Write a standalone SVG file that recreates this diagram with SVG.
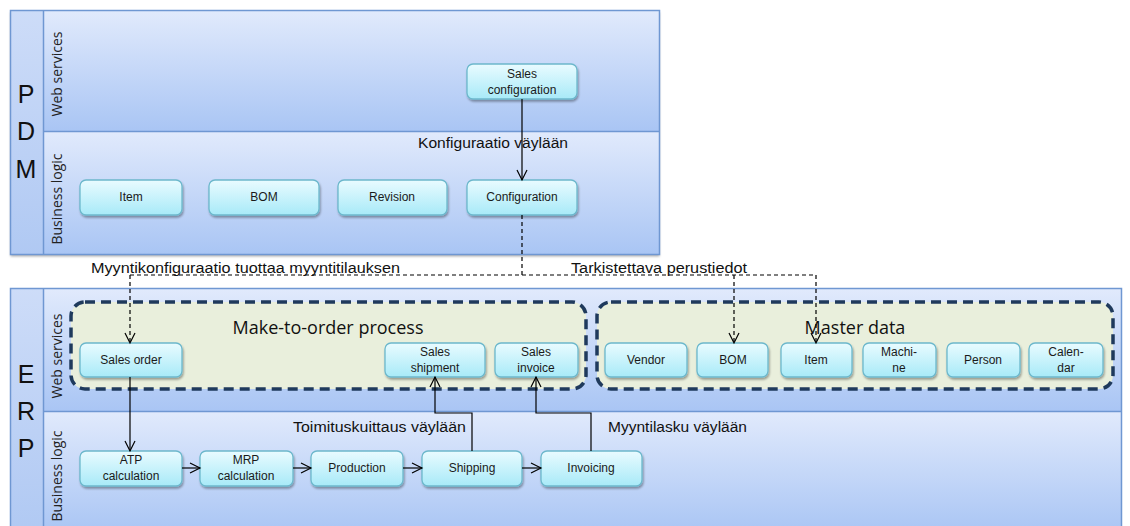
<svg xmlns="http://www.w3.org/2000/svg" width="1130" height="526" viewBox="0 0 1130 526">
  <defs>
    <linearGradient id="laneGrad" x1="0" y1="0" x2="0" y2="1">
      <stop offset="0" stop-color="#e1eafc"/>
      <stop offset="1" stop-color="#a9c5f4"/>
    </linearGradient>
    <linearGradient id="colGrad" x1="0" y1="0" x2="0" y2="1">
      <stop offset="0" stop-color="#cddcf8"/>
      <stop offset="1" stop-color="#b0c9f3"/>
    </linearGradient>
    <linearGradient id="nodeGrad" x1="0" y1="0" x2="0" y2="1">
      <stop offset="0" stop-color="#e9fbff"/>
      <stop offset="1" stop-color="#a8eaf8"/>
    </linearGradient>
    <filter id="shadow" x="-10%" y="-20%" width="130%" height="160%">
      <feDropShadow dx="1" dy="2" stdDeviation="1" flood-color="#000" flood-opacity="0.35"/>
    </filter>
    <filter id="boxShadow" x="-5%" y="-5%" width="110%" height="110%">
      <feDropShadow dx="0" dy="2" stdDeviation="1" flood-color="#000" flood-opacity="0.3"/>
    </filter>
    <marker id="arrow" markerUnits="userSpaceOnUse" markerWidth="14" markerHeight="14" viewBox="-11 -7 14 14" refX="0" refY="0" orient="auto">
      <path d="M-10,-5 L0,0 L-10,5" fill="none" stroke="#000" stroke-width="1.2"/>
    </marker>
  </defs>
  <style>
    .frame { stroke: #6f97d2; stroke-width: 1.5; }
    .lane { fill: url(#laneGrad); }
    .col { fill: url(#colGrad); }
    .div { stroke: #6f97d2; stroke-width: 1.5; fill: none; }
    .sys { font-family: "Liberation Sans", Arial, sans-serif; font-size: 25px; fill: #111; text-anchor: middle; }
    .laneLabel { font-family: "Open Sans", "Liberation Sans", sans-serif; font-size: 14px; fill: #222; text-anchor: middle; }
    .node rect { fill: url(#nodeGrad); stroke: #6cb8cc; stroke-width: 1.3; filter: url(#shadow); }
    .node text { font-family: "Liberation Sans", Arial, sans-serif; font-size: 12px; fill: #1a1a1a; text-anchor: middle; }
    .group { fill: #e9efdc; stroke: #1f3a5c; stroke-width: 3.5; stroke-dasharray: 10 6; }
    .groupTitle { font-family: "Open Sans", "Liberation Sans", sans-serif; font-size: 18px; fill: #111; text-anchor: middle; }
    .label { font-family: "Liberation Sans", Arial, sans-serif; font-size: 14px; fill: #111; }
    .conn { stroke: #000; stroke-width: 1.2; fill: none; }
    .dash { stroke: #000; stroke-width: 1.2; fill: none; stroke-dasharray: 4 3; }
  </style>

  <!-- PDM system -->
  <g id="pdm">
    <rect x="10.5" y="10.5" width="649" height="244" fill="#fff" filter="url(#boxShadow)"/>
    <rect class="col" x="10.5" y="10.5" width="33" height="244"/>
    <rect class="lane" x="43.5" y="10.5" width="616" height="121"/>
    <rect class="lane" x="43.5" y="131.5" width="616" height="123"/>
    <rect class="frame" x="10.5" y="10.5" width="649" height="244" fill="none"/>
    <path class="div" d="M43.5,10.5 V254.5 M43.5,131.5 H659.5"/>
    <text class="sys" x="26" y="103">P</text>
    <text class="sys" x="26" y="140">D</text>
    <text class="sys" x="26" y="178">M</text>
    <text class="laneLabel" transform="translate(62,74) rotate(-90)">Web services</text>
    <text class="laneLabel" transform="translate(62,199) rotate(-90)">Business logic</text>
  </g>

  <!-- ERP system -->
  <g id="erp">
    <rect class="col" x="10.5" y="288.5" width="33" height="245"/>
    <rect class="lane" x="43.5" y="288.5" width="1078" height="123"/>
    <rect class="lane" x="43.5" y="411.5" width="1078" height="122"/>
    <rect class="frame" x="10.5" y="288.5" width="1111" height="245" fill="none"/>
    <path class="div" d="M43.5,288.5 V526 M43.5,411.5 H1121.5"/>
    <text class="sys" x="26" y="383">E</text>
    <text class="sys" x="26" y="420">R</text>
    <text class="sys" x="26" y="457">P</text>
    <text class="laneLabel" transform="translate(62,356) rotate(-90)">Web services</text>
    <text class="laneLabel" transform="translate(62,476) rotate(-90)">Business logic</text>
  </g>

  <!-- Process groups -->
  <g id="make-to-order">
    <rect class="group" x="71" y="302" width="515" height="87" rx="14"/>
    <text class="groupTitle" x="328" y="334">Make-to-order process</text>
  </g>
  <g id="master-data">
    <rect class="group" x="597" y="302" width="516" height="87" rx="14"/>
    <text class="groupTitle" x="855" y="334">Master data</text>
  </g>

  <!-- PDM nodes -->
  <g id="pdm-sales-configuration" class="node">
    <rect x="467" y="64" width="110" height="35" rx="6"/>
    <text x="522" y="78">Sales</text>
    <text x="522" y="94">configuration</text>
  </g>
  <g id="pdm-item" class="node">
    <rect x="80" y="180" width="102" height="35" rx="6"/>
    <text x="131" y="201">Item</text>
  </g>
  <g id="pdm-bom" class="node">
    <rect x="209" y="180" width="110" height="35" rx="6"/>
    <text x="264" y="201">BOM</text>
  </g>
  <g id="pdm-revision" class="node">
    <rect x="338" y="180" width="109" height="35" rx="6"/>
    <text x="392" y="201">Revision</text>
  </g>
  <g id="pdm-configuration" class="node">
    <rect x="467" y="180" width="110" height="35" rx="6"/>
    <text x="522" y="201">Configuration</text>
  </g>

  <!-- ERP web service nodes -->
  <g id="erp-sales-order" class="node">
    <rect x="80" y="343" width="102" height="34" rx="6"/>
    <text x="131" y="364">Sales order</text>
  </g>
  <g id="erp-sales-shipment" class="node">
    <rect x="385" y="343" width="100" height="34" rx="6"/>
    <text x="435" y="356">Sales</text>
    <text x="435" y="372">shipment</text>
  </g>
  <g id="erp-sales-invoice" class="node">
    <rect x="495" y="343" width="83" height="34" rx="6"/>
    <text x="536" y="356">Sales</text>
    <text x="536" y="372">invoice</text>
  </g>
  <g id="erp-vendor" class="node">
    <rect x="605" y="343" width="82" height="34" rx="6"/>
    <text x="646" y="364">Vendor</text>
  </g>
  <g id="erp-bom" class="node">
    <rect x="697" y="343" width="71" height="34" rx="6"/>
    <text x="733" y="364">BOM</text>
  </g>
  <g id="erp-item" class="node">
    <rect x="781" y="343" width="71" height="34" rx="6"/>
    <text x="816" y="364">Item</text>
  </g>
  <g id="erp-machine" class="node">
    <rect x="863" y="343" width="73" height="34" rx="6"/>
    <text x="899" y="356">Machi-</text>
    <text x="899" y="372">ne</text>
  </g>
  <g id="erp-person" class="node">
    <rect x="947" y="343" width="73" height="34" rx="6"/>
    <text x="983" y="364">Person</text>
  </g>
  <g id="erp-calendar" class="node">
    <rect x="1029" y="343" width="74" height="34" rx="6"/>
    <text x="1066" y="356">Calen-</text>
    <text x="1066" y="372">dar</text>
  </g>

  <!-- ERP business logic nodes -->
  <g id="erp-atp" class="node">
    <rect x="80" y="451" width="102" height="35" rx="6"/>
    <text x="131" y="464">ATP</text>
    <text x="131" y="480">calculation</text>
  </g>
  <g id="erp-mrp" class="node">
    <rect x="200" y="451" width="93" height="35" rx="6"/>
    <text x="246" y="464">MRP</text>
    <text x="246" y="480">calculation</text>
  </g>
  <g id="erp-production" class="node">
    <rect x="311" y="451" width="92" height="35" rx="6"/>
    <text x="357" y="472">Production</text>
  </g>
  <g id="erp-shipping" class="node">
    <rect x="422" y="451" width="100" height="35" rx="6"/>
    <text x="472" y="472">Shipping</text>
  </g>
  <g id="erp-invoicing" class="node">
    <rect x="541" y="451" width="101" height="35" rx="6"/>
    <text x="591" y="472">Invoicing</text>
  </g>

  <!-- Connectors -->
  <g id="connectors">
    <path class="conn" d="M522,99 V180" marker-end="url(#arrow)"/>
    <path class="dash" d="M522,215 V275"/>
    <path class="dash" d="M130,275 H816"/>
    <path class="dash" d="M130,275 V343" marker-end="url(#arrow)"/>
    <path class="dash" d="M734,275 V343" marker-end="url(#arrow)"/>
    <path class="dash" d="M816,275 V343" marker-end="url(#arrow)"/>
    <path class="conn" d="M130,377 V451" marker-end="url(#arrow)"/>
    <path class="conn" d="M182,468 H200" marker-end="url(#arrow)"/>
    <path class="conn" d="M293,468 H311" marker-end="url(#arrow)"/>
    <path class="conn" d="M403,468 H422" marker-end="url(#arrow)"/>
    <path class="conn" d="M522,468 H541" marker-end="url(#arrow)"/>
    <path class="conn" d="M472,451 V413 H435 V377" marker-end="url(#arrow)"/>
    <path class="conn" d="M591,451 V413 H536 V377" marker-end="url(#arrow)"/>
  </g>

  <!-- Connector labels -->
  <g id="labels">
    <text class="label" x="418" y="148" textLength="150" lengthAdjust="spacingAndGlyphs">Konfiguraatio väylään</text>
    <text class="label" x="91" y="273" textLength="309" lengthAdjust="spacingAndGlyphs">Myyntikonfiguraatio tuottaa myyntitilauksen</text>
    <text class="label" x="571" y="273" textLength="176" lengthAdjust="spacingAndGlyphs">Tarkistettava perustiedot</text>
    <text class="label" x="293" y="432" textLength="173" lengthAdjust="spacingAndGlyphs">Toimituskuittaus väylään</text>
    <text class="label" x="608" y="432" textLength="139" lengthAdjust="spacingAndGlyphs">Myyntilasku väylään</text>
  </g>
</svg>
